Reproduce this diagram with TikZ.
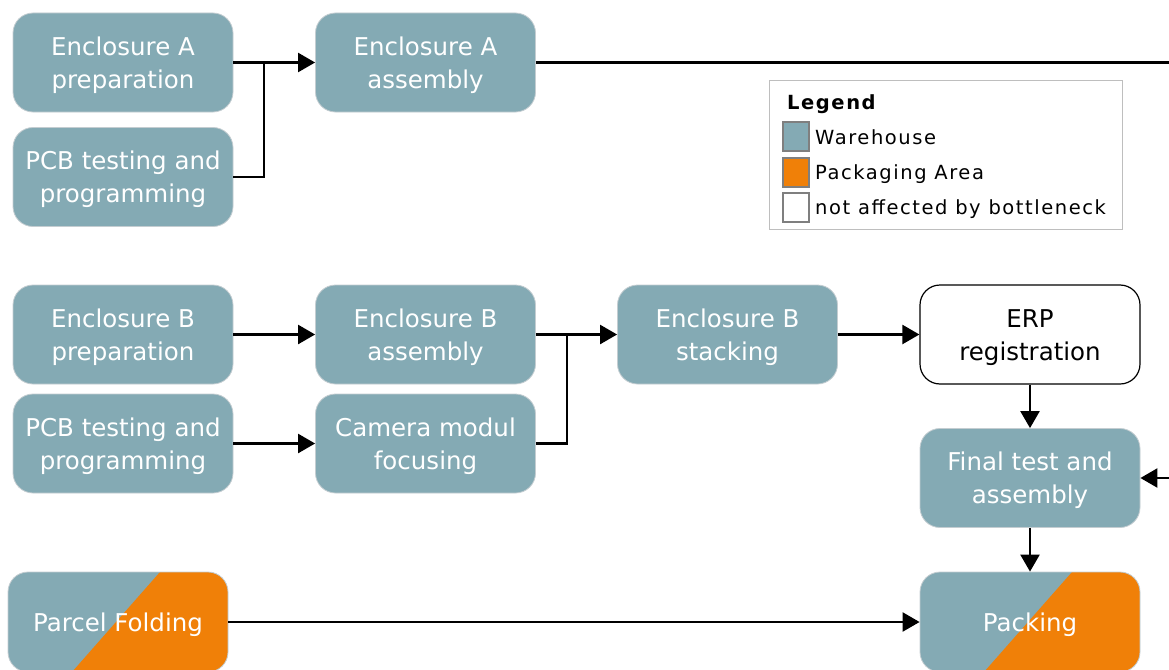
\documentclass[tikz,border=0pt]{standalone}
\usepackage{fontspec}
\setmainfont{DejaVu Sans}
\usetikzlibrary{arrows.meta}
\definecolor{wh}{HTML}{84AAB4}
\definecolor{pk}{HTML}{F08008}
\definecolor{bd}{HTML}{C4CDD1}
\definecolor{lgb}{HTML}{BEBEBE}
\definecolor{swb}{HTML}{7F7F7F}
\newcommand\bt[1]{\raisebox{-2.5pt}[\height][\depth]{\begin{tabular}{@{}c@{}}#1\end{tabular}}}
\begin{document}
\begin{tikzpicture}[x=1pt,y=-1pt,
  box/.style={rounded corners=20pt, minimum width=220pt, minimum height=99pt,
    inner sep=0pt, font=\fontsize{24.5}{33}\selectfont,
    text=white, fill=wh, draw=bd, line width=0.8pt},
  whitebox/.style={box, fill=white, draw=black, text=black, line width=1.2pt},
  splitbox/.style={box, minimum height=100pt, path picture={
    \fill[pk, sharp corners] ([xshift=152pt]path picture bounding box.north west) --
      (path picture bounding box.north east) --
      (path picture bounding box.south east) --
      ([xshift=64pt]path picture bounding box.south west) -- cycle;}},
  ln/.style={line width=2.3pt, draw=black},
  arr/.style={ln, -{Triangle[length=17pt,width=19pt]}},
  sw/.style={draw=swb, line width=2pt, minimum width=26pt, minimum height=29pt, inner sep=0pt},
  lgt/.style={anchor=base west, inner sep=0pt, font=\fontsize{19.5}{24}\selectfont\addfontfeatures{LetterSpace=8}}
]
\useasboundingbox (0,0) rectangle (1169,669);

% row A
\node[box] (ap) at (123,62.5) {\bt{Enclosure A\\preparation}};
\node[box] (pa) at (123,177) {\bt{PCB testing and\\programming}};
\node[box] (aa) at (425.5,62.5) {\bt{Enclosure A\\assembly}};

% row B
\node[box] (bp) at (123,334.5) {\bt{Enclosure B\\preparation}};
\node[box] (pb) at (123,443.5) {\bt{PCB testing and\\programming}};
\node[box] (ba) at (425.5,334.5) {\bt{Enclosure B\\assembly}};
\node[box] (cm) at (425.5,443.5) {\bt{Camera modul\\focusing}};
\node[box] (bs) at (727.5,334.5) {\bt{Enclosure B\\stacking}};
\node[whitebox] (erp) at (1030,334.5) {\bt{ERP\\registration}};
\node[box] (ft) at (1030,478) {\bt{Final test and\\assembly}};

% bottom
\node[splitbox] (pf) at (118,622) {\bt{Parcel Folding}};
\node[splitbox] (pk) at (1030,622) {\bt{Packing}};

% connectors
\coordinate (ja) at (264,62.5);
\draw[arr] (ap.east) -- (aa.west);
\draw[ln] (pa.east) -| (ja);
\coordinate (ra) at (1172,62.5);
\draw[ln] (aa.east) -- (ra);

\draw[arr] (bp.east) -- (ba.west);
\draw[arr] (pb.east) -- (cm.west);
\coordinate (jb) at (567,334.5);
\draw[arr] (ba.east) -- (bs.west);
\draw[ln] (cm.east) -| (jb);
\draw[arr] (bs.east) -- (erp.west);
\draw[arr] (erp.south) -- (ft.north);
\draw[arr] (ft.south) -- (pk.north);
\coordinate (rf) at (1172,478);
\draw[arr] (rf) -- (ft.east);
\draw[arr] (pf.east) -- (pk.west);

% legend
\node[draw=lgb, line width=1pt, minimum width=353pt, minimum height=149pt, anchor=north west, inner sep=0pt] (leg) at (769,80) {};
\node[anchor=base west, inner sep=0pt, font=\fontsize{19.5}{24}\selectfont\bfseries\addfontfeatures{LetterSpace=8}] (lt) at (787,109) {Legend};
\node[sw, fill=wh] (s1) at (795.5,136.5) {};
\node[sw, fill=pk] (s2) at (795.5,172.5) {};
\node[sw, fill=white] (s3) at (795.5,207.5) {};
\node[lgt] (t1) at (815,144) {Warehouse};
\node[lgt] (t2) at (815,179) {Packaging Area};
\node[lgt] (t3) at (815,214) {not affected by bottleneck};
\end{tikzpicture}
\end{document}
